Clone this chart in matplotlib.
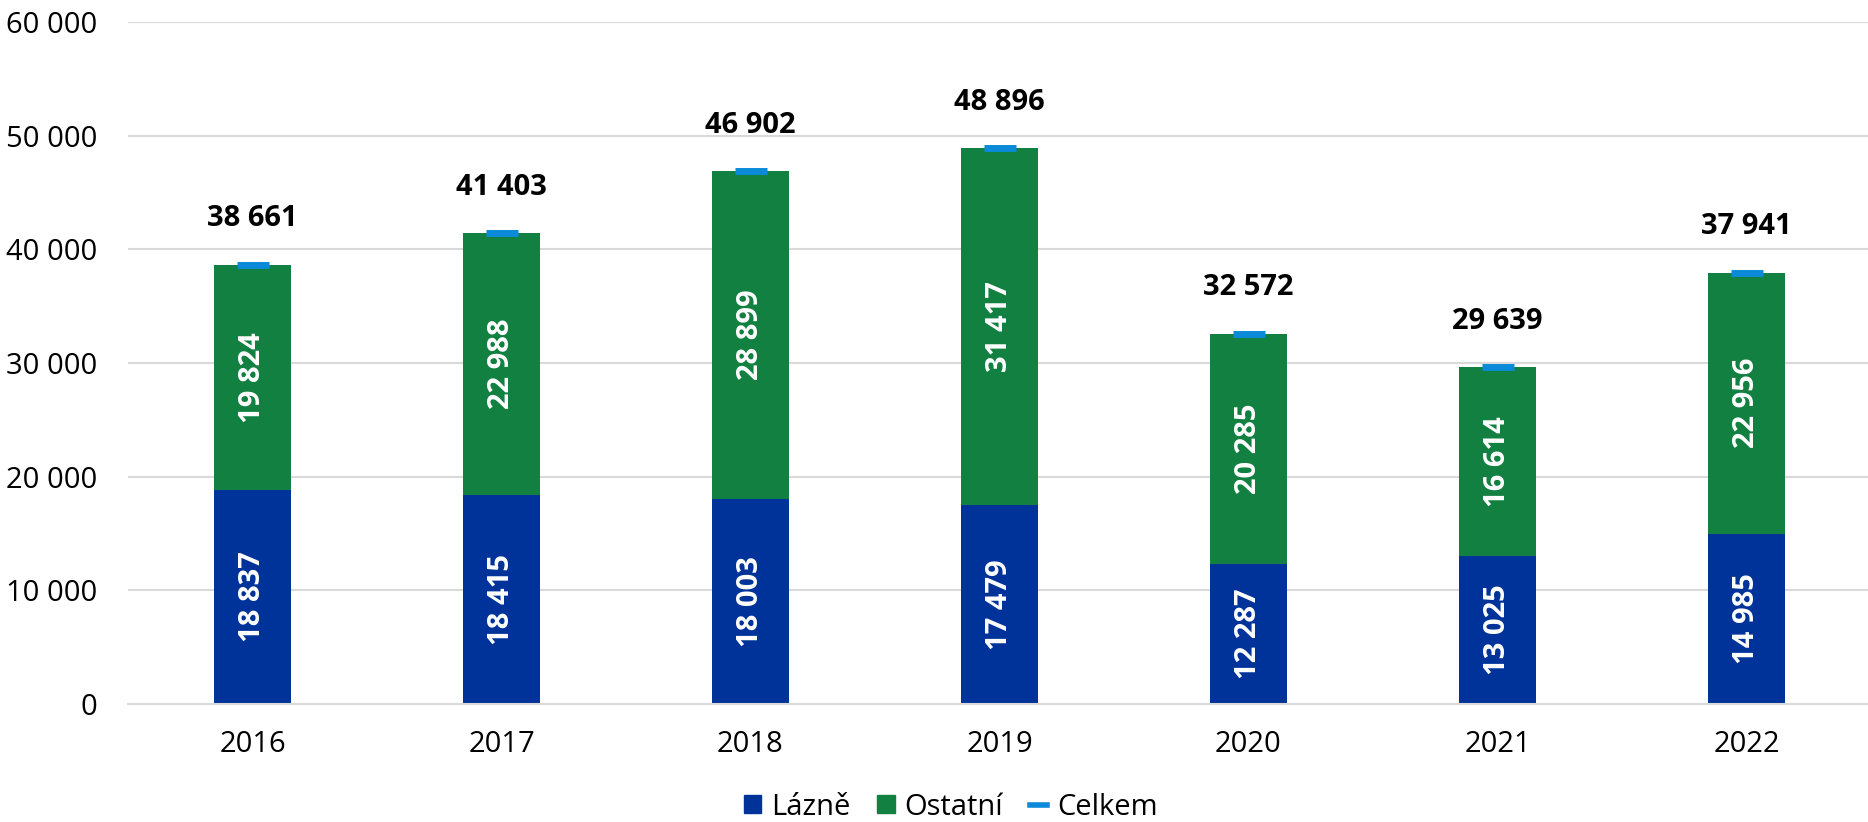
import matplotlib
matplotlib.use("Agg")
import matplotlib.pyplot as plt
from matplotlib.lines import Line2D
from matplotlib.patches import Patch

years = ["2016", "2017", "2018", "2019", "2020", "2021", "2022"]
lazne = [18837, 18415, 18003, 17479, 12287, 13025, 14985]
ostatni = [19824, 22988, 28899, 31417, 20285, 16614, 22956]
celkem = [38661, 41403, 46902, 48896, 32572, 29639, 37941]
yticks = [0, 10000, 20000, 30000, 40000, 50000, 60000]

c_lazne = "#003399"
c_ost = "#118040"
c_cel = "#0a8ad8"

plt.rcParams['font.family'] = ['Open Sans', 'DejaVu Sans']

def fmt(v):
    return f"{v:,}".replace(",", " ")

fig = plt.figure(figsize=(18.68, 8.22), dpi=100)
ax = fig.add_axes([128/1868, 1 - 704/822, 1743/1868, (704-22)/822])

x = list(range(len(years)))
w = 0.313
ax.bar(x, lazne, width=w, color=c_lazne, zorder=2)
ax.bar(x, ostatni, width=w, bottom=lazne, color=c_ost, zorder=2)
ax.plot(x, celkem, linestyle='none', marker='_', markersize=23, markeredgewidth=5, color=c_cel, zorder=3)

for i in x:
    ax.text(i, lazne[i] / 2, fmt(lazne[i]), rotation=90, ha='center', va='center',
            color='white', fontsize=21, fontweight='bold', zorder=4)
    ax.text(i, lazne[i] + ostatni[i] / 2, fmt(ostatni[i]), rotation=90, ha='center', va='center',
            color='white', fontsize=21, fontweight='bold', zorder=4)
    ax.annotate(fmt(celkem[i]), (i, celkem[i]), xytext=(0, 33), textcoords='offset points',
                ha='center', va='center', fontsize=21, fontweight='bold', color='black')

ax.set_xlim(-0.5, len(years) - 0.5)
ax.set_ylim(0, 60000)
ax.set_yticks(yticks)
ax.set_yticklabels([fmt(v) for v in yticks], fontsize=21)
ax.set_xticks(x)
ax.set_xticklabels(years, fontsize=21)
ax.tick_params(axis='both', length=0)
ax.tick_params(axis='y', pad=22)
ax.tick_params(axis='x', pad=19)
ax.grid(axis='y', color='#d9d9d9', linewidth=1.5, zorder=0)
for s in ['top', 'right', 'left']:
    ax.spines[s].set_visible(False)
ax.spines['bottom'].set_color('#d9d9d9')
ax.spines['bottom'].set_linewidth(1.5)

handles = [Patch(color=c_lazne, label='Lázně'), Patch(color=c_ost, label='Ostatní'),
           Line2D([], [], color=c_cel, linewidth=4, label='Celkem')]
fig.legend(handles=handles, loc='center', bbox_to_anchor=(0.509, 1 - 807/822), ncol=3, frameon=False,
           fontsize=21, handlelength=0.6, handleheight=0.6, handletextpad=0.35, columnspacing=0.9)

fig.savefig("out.png", dpi=100)
